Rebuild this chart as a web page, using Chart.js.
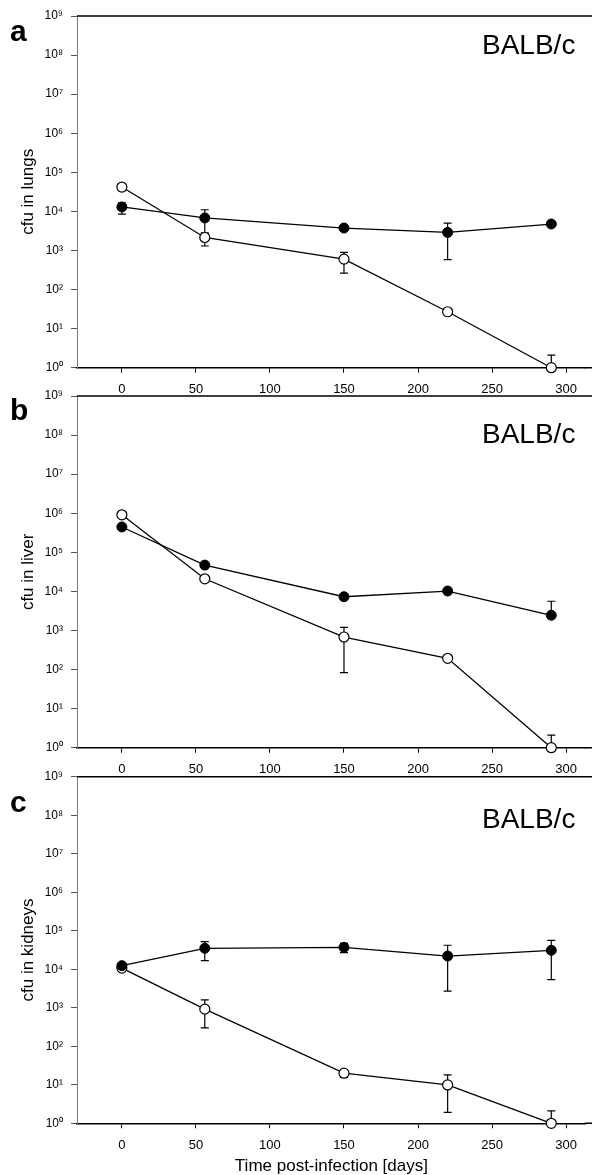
<!DOCTYPE html>
<html>
<head>
<meta charset="utf-8">
<script src="https://cdn.jsdelivr.net/npm/chart.js@4.4.1/dist/chart.umd.min.js"></script>
<style>
  body { margin: 0; background: #fff; width: 592px; height: 1175px; position: relative; overflow: hidden; }
  canvas { position: absolute; left: 0; }
</style>
</head>
<body>
<canvas id="lungs" width="592" height="400" style="top:0px"></canvas>
<canvas id="liver" width="592" height="400" style="top:380px"></canvas>
<canvas id="kidneys" width="592" height="420" style="top:760px"></canvas>
<script>
// ====== Data ======
const days = [0, 56, 150, 220, 290];
const xTicks = [0, 50, 100, 150, 200, 250, 300];
const yTicks = [1, 10, 100, 1e3, 1e4, 1e5, 1e6, 1e7, 1e8, 1e9];
const yTickLabels = ["10⁰", "10¹", "10²", "10³", "10⁴", "10⁵", "10⁶", "10⁷", "10⁸", "10⁹"];

// lungs (a)
const lungsFilled   = [1.3e4, 6.8e3, 3.75e3, 2.9e3, 4.75e3];
const lungsFilledHi = [1.65e4, 1.1e4, null, 5.0e3, null];
const lungsFilledLo = [8.5e3, 2.8e3, null, 580, null];
const lungsOpen     = [4.2e4, 2.15e3, 600, 27, 1];
const lungsOpenHi   = [5.0e4, 2.8e3, 890, null, 2.1];
const lungsOpenLo   = [3.4e4, 1.3e3, 263, null, null];

// liver (b)
const liverFilled   = [4.45e5, 4.7e4, 7.3e3, 1.02e4, 2.45e3];
const liverFilledHi = [null, null, null, null, 5.6e3];
const liverFilledLo = [null, null, null, null, null];
const liverOpen     = [9.1e5, 2.1e4, 680, 194, 1];
const liverOpenHi   = [null, null, 1.2e3, null, 2.1];
const liverOpenLo   = [null, null, 83, null, null];

// kidneys (c)
const kidFilled   = [1.24e4, 3.5e4, 3.7e4, 2.2e4, 3.1e4];
const kidFilledHi = [null, 5.2e4, 4.7e4, 4.2e4, 5.6e4];
const kidFilledLo = [null, 1.67e4, 2.7e4, 2.7e3, 5.4e3];
const kidOpen     = [1.07e4, 920, 20, 9.9, 1];
const kidOpenHi   = [null, 1.6e3, 24, 18, 2.1];
const kidOpenLo   = [null, 300, 15.6, 1.93, null];

const FONT = "'Liberation Sans', Arial, Helvetica, sans-serif";

// ====== Plugins ======
const errorBars = {
    id: "errorBars",
    beforeDatasetsDraw(chart) {
        const { ctx } = chart;
        const y = chart.scales.y;
        ctx.save();
        ctx.strokeStyle = "#000";
        ctx.lineWidth = 1.2;
        chart.data.datasets.forEach((ds, i) => {
            const meta = chart.getDatasetMeta(i);
            meta.data.forEach((pt, j) => {
                [ds.errHi[j], ds.errLo[j]].forEach(v => {
                    if (v == null) return;
                    const py = y.getPixelForValue(v);
                    ctx.beginPath();
                    ctx.moveTo(pt.x, pt.y);
                    ctx.lineTo(pt.x, py);
                    ctx.moveTo(pt.x - 4, py);
                    ctx.lineTo(pt.x + 4, py);
                    ctx.stroke();
                });
            });
        });
        ctx.restore();
    }
};

const panelDeco = {
    id: "panelDeco",
    afterDraw(chart, args, opts) {
        const { ctx, chartArea } = chart;
        ctx.save();
        // top frame line and bottom axis run to the page edge
        ctx.strokeStyle = "#000";
        ctx.lineWidth = 1.5;
        ctx.beginPath();
        ctx.moveTo(chartArea.left, chartArea.top);
        ctx.lineTo(592, chartArea.top);
        ctx.moveTo(chartArea.right - 1, chartArea.bottom);
        ctx.lineTo(592, chartArea.bottom);
        ctx.stroke();
        ctx.fillStyle = "#000";
        ctx.textBaseline = "alphabetic";
        ctx.font = "bold 30px " + FONT;
        ctx.fillText(opts.letter, 10, opts.letterY);
        ctx.font = "28px " + FONT;
        ctx.fillText("BALB/c", 482, opts.strainY);
        ctx.restore();
    }
};

// ====== Chart ======
function makeChart(id, cfg) {
    return new Chart(document.getElementById(id), {
        type: "line",
        data: {
            datasets: [
                {
                    data: days.map((d, i) => ({ x: d, y: cfg.filled[i] })),
                    errHi: cfg.filledHi,
                    errLo: cfg.filledLo,
                    borderColor: "#000",
                    borderWidth: 1.3,
                    pointRadius: 5,
                    pointBackgroundColor: "#000",
                    pointBorderColor: "#000",
                    pointBorderWidth: 1,
                    clip: false,
                },
                {
                    data: days.map((d, i) => ({ x: d, y: cfg.open[i] })),
                    errHi: cfg.openHi,
                    errLo: cfg.openLo,
                    borderColor: "#000",
                    borderWidth: 1.3,
                    pointRadius: 5,
                    pointBackgroundColor: "#fff",
                    pointBorderColor: "#000",
                    pointBorderWidth: 1.2,
                    clip: false,
                },
            ],
        },
        options: {
            responsive: false,
            animation: false,
            layout: { padding: { top: cfg.padTop, left: 0, right: 0, bottom: 0 } },
            plugins: {
                legend: { display: false },
                tooltip: { enabled: false },
                panelDeco: { letter: cfg.letter, letterY: cfg.letterY, strainY: cfg.strainY },
            },
            scales: {
                x: {
                    type: "linear",
                    min: -30.3,
                    max: 313.3,
                    afterBuildTicks: s => { s.ticks = xTicks.map(v => ({ value: v })); },
                    afterFit: s => { s.height = cfg.xHeight; },
                    grid: { display: true, drawOnChartArea: false, drawTicks: true, tickLength: 5, color: "#000" },
                    border: { display: true, color: "#000", width: 1.5 },
                    ticks: { color: "#000", font: { family: FONT, size: 13 }, padding: 9, maxRotation: 0 },
                    title: {
                        display: !!cfg.xTitle,
                        text: cfg.xTitle || "",
                        color: "#000",
                        font: { family: FONT, size: 17 },
                        padding: { top: 0, bottom: 3 },
                    },
                },
                y: {
                    type: "logarithmic",
                    min: 1,
                    max: 1e9,
                    afterBuildTicks: s => { s.ticks = yTicks.map(v => ({ value: v })); },
                    afterFit: s => { s.width = 77; },
                    grid: { display: true, drawOnChartArea: false, drawTicks: true, tickLength: 6, color: "#555" },
                    border: { display: true, color: "#777", width: 1 },
                    ticks: {
                        color: "#000",
                        font: { family: FONT, size: 12 },
                        padding: 8,
                        callback: v => yTickLabels[yTicks.indexOf(v)] ?? "",
                    },
                    title: {
                        display: true,
                        text: cfg.yTitle,
                        color: "#000",
                        font: { family: FONT, size: 17 },
                        padding: { top: 18, bottom: 0 },
                    },
                },
            },
        },
        plugins: [errorBars, panelDeco],
    });
}

makeChart("lungs", {
    filled: lungsFilled, filledHi: lungsFilledHi, filledLo: lungsFilledLo,
    open: lungsOpen, openHi: lungsOpenHi, openLo: lungsOpenLo,
    yTitle: "cfu in lungs", letter: "a", letterY: 41, strainY: 54,
    padTop: 16, xHeight: 32.3,
});
makeChart("liver", {
    filled: liverFilled, filledHi: liverFilledHi, filledLo: liverFilledLo,
    open: liverOpen, openHi: liverOpenHi, openLo: liverOpenLo,
    yTitle: "cfu in liver", letter: "b", letterY: 40, strainY: 63,
    padTop: 16, xHeight: 32.3,
});
makeChart("kidneys", {
    filled: kidFilled, filledHi: kidFilledHi, filledLo: kidFilledLo,
    open: kidOpen, openHi: kidOpenHi, openLo: kidOpenLo,
    yTitle: "cfu in kidneys", letter: "c", letterY: 52, strainY: 68,
    padTop: 16.7, xHeight: 56.7, xTitle: "Time post-infection [days]",
});
</script>
</body>
</html>
